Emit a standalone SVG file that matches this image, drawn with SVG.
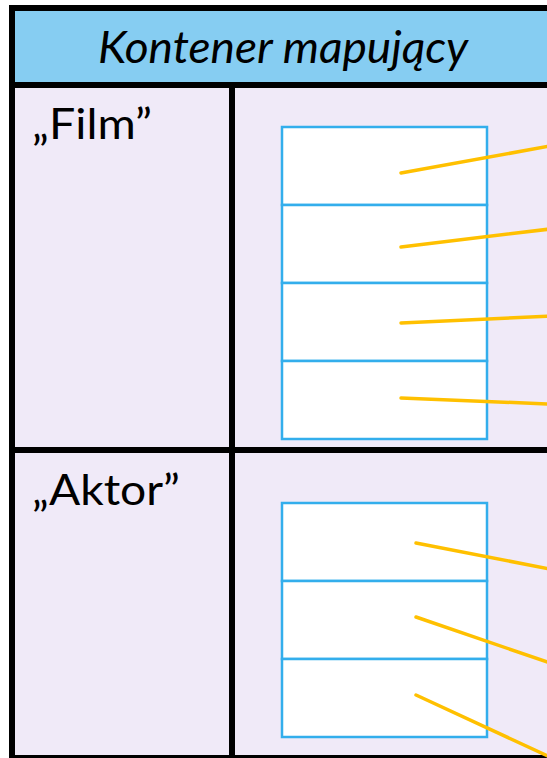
<svg xmlns="http://www.w3.org/2000/svg" width="547" height="758" viewBox="0 0 547 758">
<style>
.frame{fill:none;stroke:#000;stroke-width:6}
.cell{fill:#fff;stroke:#33AEEC;stroke-width:2.5}
.link{stroke:#FFC000;stroke-width:3.5;stroke-linecap:round;fill:none}
.lbl{font-family:Lato,"Open Sans","Liberation Sans",sans-serif;font-size:43px;fill:#000}
.hdr{font-family:Lato,"Open Sans","Liberation Sans",sans-serif;font-size:44px;font-style:italic;fill:#000}
</style>
<rect x="0" y="0" width="547" height="758" fill="#fff"/>
<g id="container">
<rect x="12" y="8" width="560" height="750" fill="#F0EAF8"/>
<rect x="12" y="8" width="560" height="77" fill="#86CDF2"/>
<text class="hdr" x="283" y="63" text-anchor="middle" textLength="370" lengthAdjust="spacingAndGlyphs">Kontener mapujący</text>
<line class="frame" x1="12" y1="85" x2="560" y2="85"/>
<line class="frame" x1="232" y1="85" x2="232" y2="758"/>
<line class="frame" x1="12" y1="450" x2="560" y2="450"/>
<rect class="frame" x="12" y="8" width="560" height="750"/>
</g>
<g id="film">
<text class="lbl" x="32" y="139" textLength="120" lengthAdjust="spacingAndGlyphs">„Film”</text>
<rect class="cell" x="282" y="127" width="205" height="78"/>
<rect class="cell" x="282" y="205" width="205" height="78"/>
<rect class="cell" x="282" y="283" width="205" height="78"/>
<rect class="cell" x="282" y="361" width="205" height="78"/>
</g>
<g id="aktor">
<text class="lbl" x="32" y="505" textLength="148" lengthAdjust="spacingAndGlyphs">„Aktor”</text>
<rect class="cell" x="282" y="503" width="205" height="78"/>
<rect class="cell" x="282" y="581" width="205" height="78"/>
<rect class="cell" x="282" y="659" width="205" height="78"/>
</g>
<g id="connectors">
<line class="link" x1="401" y1="173" x2="550" y2="146"/>
<line class="link" x1="401" y1="247" x2="550" y2="229"/>
<line class="link" x1="401" y1="323" x2="550" y2="316"/>
<line class="link" x1="401" y1="398" x2="550" y2="404"/>
<line class="link" x1="416" y1="543" x2="550" y2="569"/>
<line class="link" x1="416" y1="617" x2="550" y2="663"/>
<line class="link" x1="416" y1="695" x2="550" y2="757"/>
</g>
</svg>
